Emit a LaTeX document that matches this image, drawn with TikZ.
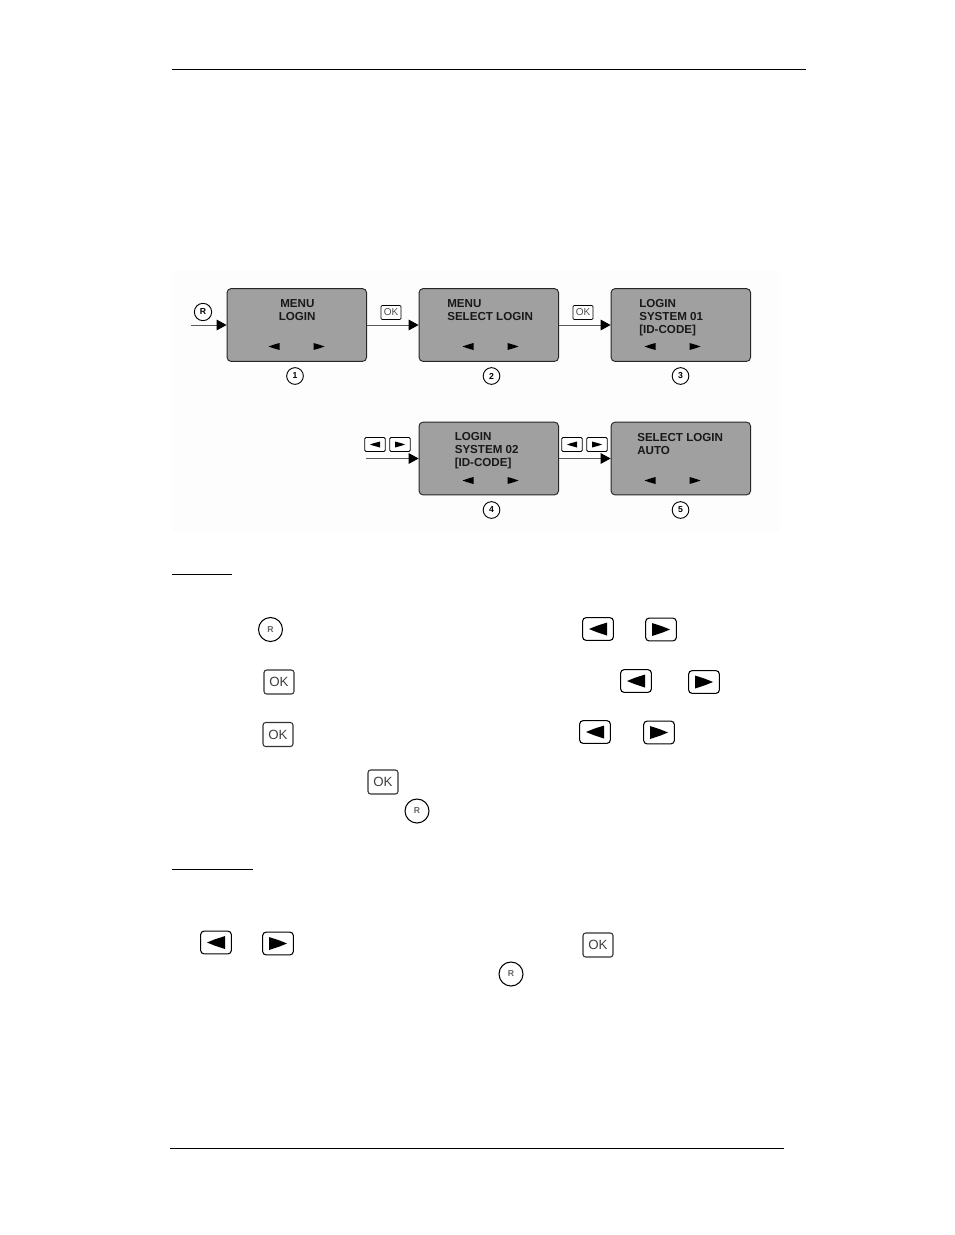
\documentclass[tikz,border=0pt]{standalone}
\usepackage{fontspec}
\setmainfont{Liberation Sans}
\usetikzlibrary{arrows.meta}
\definecolor{lcd}{HTML}{A0A0A0}
\definecolor{figbg}{HTML}{FDFDFD}
\tikzset{
  x=0.75pt,y=-0.75pt,
  lcdbox/.style={draw=black!85,line width=0.7pt,fill=lcd,rounded corners=3pt,minimum width=104.6pt,minimum height=54.6pt,inner sep=0pt},
  lcdtext/.style={anchor=west,inner sep=0pt,text=black!90,font=\bfseries\fontsize{8.7}{10}\selectfont},
  flow/.style={draw=black!65,line width=0.6pt,-{Triangle[length=7.5pt,width=8pt,fill=black,color=black]}},
  rule/.style={draw=black,line width=0.75pt},
  numcirc/.style={draw=black,line width=0.7pt,circle,fill=white,minimum size=12.5pt,inner sep=0pt,font=\bfseries\fontsize{6.5}{7}\selectfont},
  rsmall/.style={draw=black,line width=0.7pt,circle,fill=white,minimum size=13pt,inner sep=0pt,font=\bfseries\fontsize{6.5}{7}\selectfont},
  rbig/.style={draw=black,line width=0.8pt,circle,fill=white,minimum size=18pt,inner sep=0pt,text=black!60,font=\bfseries\fontsize{6.5}{7}\selectfont},
  oksmall/.style={draw=black,line width=0.5pt,rounded corners=0.8pt,fill=white,minimum width=15pt,minimum height=10.5pt,inner sep=0pt,text=black!70,font=\fontsize{7.5}{8}\selectfont},
  okbig/.style={draw=black!80,line width=0.8pt,rounded corners=2pt,fill=white,minimum width=22.5pt,minimum height=18pt,inner sep=0pt,text=black!75,font=\fontsize{10}{11}\selectfont},
  keysmall/.style={draw=black,line width=0.6pt,rounded corners=1pt,fill=white,minimum width=15.5pt,minimum height=10.5pt,inner sep=0pt},
  keybig/.style={draw=black,line width=0.8pt,rounded corners=2.5pt,fill=white,minimum width=23pt,minimum height=17pt,inner sep=0pt},
}
% triangles: centre x, centre y, half length, half height
\newcommand{\triL}[4]{\fill[black] (#1-#3,#2) -- (#1-#3*0.2,#2-#4*0.45) -- (#1+#3,#2-#4) -- (#1+#3,#2+#4) -- (#1-#3*0.2,#2+#4*0.45) -- cycle;}
\newcommand{\triR}[4]{\fill[black] (#1+#3,#2) -- (#1+#3*0.2,#2-#4*0.45) -- (#1-#3,#2-#4) -- (#1-#3,#2+#4) -- (#1+#3*0.2,#2+#4*0.45) -- cycle;}
\begin{document}
\begin{tikzpicture}
\useasboundingbox (0,0) rectangle (954,1235);
\fill[white] (0,0) rectangle (954,1235);
\fill[figbg] (172,270) rectangle (780,532);
% page rules
\coordinate (tl) at (172,69); \coordinate (tr) at (806,69);
\coordinate (bl) at (170,1148); \coordinate (br) at (784,1148);
\draw[rule] (tl) -- (tr);
\draw[rule] (bl) -- (br);
\coordinate (ula) at (172,574.5); \coordinate (ulb) at (232,574.5);
\coordinate (ulc) at (172,869.5); \coordinate (uld) at (253,869.5);
\draw[draw=black,line width=1.4pt] (ula) -- (ulb);
\draw[draw=black,line width=1.4pt] (ulc) -- (uld);
% LCD boxes
\node[lcdbox] (b1) at (296.8,325) {};
\node[lcdbox] (b2) at (488.8,325) {};
\node[lcdbox] (b3) at (680.8,325) {};
\node[lcdbox] (b4) at (488.8,458.5) {};
\node[lcdbox] (b5) at (680.8,458.5) {};
% LCD text
\node[lcdtext] (t1a) at (280,303.5) {MENU};
\node[lcdtext] (t1b) at (278.5,316.5) {LOGIN};
\node[lcdtext] (t2a) at (447,303.5) {MENU};
\node[lcdtext] (t2b) at (447,316.5) {SELECT LOGIN};
\node[lcdtext] (t3a) at (639,303.5) {LOGIN};
\node[lcdtext] (t3b) at (639,316.5) {SYSTEM 01};
\node[lcdtext] (t3c) at (639,330) {[ID-CODE]};
\node[lcdtext] (t4a) at (454.5,436.5) {LOGIN};
\node[lcdtext] (t4b) at (454.5,450) {SYSTEM 02};
\node[lcdtext] (t4c) at (454.5,463.5) {[ID-CODE]};
\node[lcdtext] (t5a) at (637,437.5) {SELECT LOGIN};
\node[lcdtext] (t5b) at (637,451) {AUTO};
% LCD arrows
\triL{274}{346.5}{5.5}{3.5}\triR{319}{346.5}{5.5}{3.5}
\triL{468}{346.5}{5.5}{3.5}\triR{513}{346.5}{5.5}{3.5}
\triL{650}{346.5}{5.5}{3.5}\triR{695}{346.5}{5.5}{3.5}
\triL{468}{480.5}{5.5}{3.5}\triR{513}{480.5}{5.5}{3.5}
\triL{650}{480.5}{5.5}{3.5}\triR{695}{480.5}{5.5}{3.5}
% step numbers
\node[numcirc] (n1) at (295,376) {1};
\node[numcirc] (n2) at (491.5,376) {2};
\node[numcirc] (n3) at (680.5,376) {3};
\node[numcirc] (n4) at (491.5,510) {4};
\node[numcirc] (n5) at (680.5,510) {5};
% connectors
\coordinate (in1) at (191,325);
\coordinate (in4) at (366,458.5);
\draw[flow] (in1) -- (b1.west);
\draw[flow] (b1.east) -- (b2.west);
\draw[flow] (b2.east) -- (b3.west);
\draw[flow] (in4) -- (b4.west);
\draw[flow] (b4.east) -- (b5.west);
% connector labels
\node[rsmall] (lr) at (203,312) {R};
\node[oksmall] (lo1) at (391,312.5) {OK};
\node[oksmall] (lo2) at (583,312.5) {OK};
\node[keysmall] (lk1) at (375,444.5) {}; \triL{375}{444.5}{5}{3}
\node[keysmall] (lk2) at (400,444.5) {}; \triR{400}{444.5}{5}{3}
\node[keysmall] (lk3) at (572,444.5) {}; \triL{572}{444.5}{5}{3}
\node[keysmall] (lk4) at (597,444.5) {}; \triR{597}{444.5}{5}{3}
% buttons in text
\node[rbig] (r1) at (270.5,629.5) {R};
\node[keybig] (k1) at (598,629) {}; \triL{598}{629}{9}{6.5}
\node[keybig] (k2) at (661,629.5) {}; \triR{661}{629.5}{9}{6.5}
\node[okbig] (o1) at (279,682) {OK};
\node[keybig] (k3) at (636,681) {}; \triL{636}{681}{9}{6.5}
\node[keybig] (k4) at (704,682) {}; \triR{704}{682}{9}{6.5}
\node[okbig] (o2) at (278,734.5) {OK};
\node[keybig] (k5) at (595,732) {}; \triL{595}{732}{9}{6.5}
\node[keybig] (k6) at (659,732.5) {}; \triR{659}{732.5}{9}{6.5}
\node[okbig] (o3) at (383,782) {OK};
\node[rbig] (r2) at (417,811) {R};
\node[keybig] (k7) at (216,942.5) {}; \triL{216}{942.5}{9}{6.5}
\node[keybig] (k8) at (278,943.5) {}; \triR{278}{943.5}{9}{6.5}
\node[okbig] (o4) at (598,945) {OK};
\node[rbig] (r3) at (511,974) {R};
\end{tikzpicture}
\end{document}
